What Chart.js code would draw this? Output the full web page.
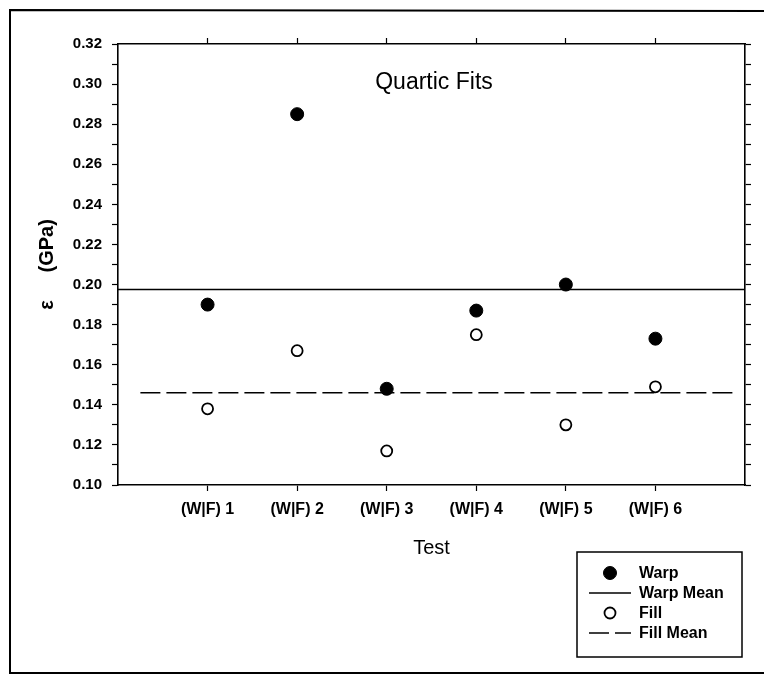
<!DOCTYPE html>
<html>
<head>
<meta charset="utf-8">
<script src="https://cdn.jsdelivr.net/npm/chart.js@4/dist/chart.umd.min.js"></script>
<style>
  body { margin: 0; background: #fff; }
  #wrap { width: 764px; height: 677px; position: relative; }
</style>
</head>
<body>
<div id="wrap"><canvas id="quarticChart"></canvas></div>
<script>
// values
const categories = ['(W|F) 1', '(W|F) 2', '(W|F) 3', '(W|F) 4', '(W|F) 5', '(W|F) 6'];
const warp = [0.190, 0.285, 0.148, 0.187, 0.200, 0.173];
const fill = [0.138, 0.167, 0.117, 0.175, 0.130, 0.149];
const warpMean = 0.1975;
const fillMean = 0.146;
const meanSpanWarp = [0, 7];
const meanSpanFill = [0.25, 6.9];

const FONT = '"Liberation Sans", Arial, sans-serif';

const toPoints = arr => arr.map((v, i) => ({ x: i + 1, y: v }));

const onlyCategories = scale => {
  scale.ticks = categories.map((c, i) => ({ value: i + 1 }));
};

// legend box + frame + inner title
const decor = {
  id: 'decor',
  afterDraw(chart) {
    const c = chart.ctx;
    c.save();
    c.strokeStyle = '#000';

    // outer frame (right edge runs off the scan)
    c.lineWidth = 2;
    c.beginPath();
    c.moveTo(790, 11);
    c.lineTo(10, 10);
    c.lineTo(10, 673);
    c.lineTo(790, 673);
    c.stroke();

    c.fillStyle = '#000';
    c.font = '23px ' + FONT;
    c.textAlign = 'center';
    c.textBaseline = 'middle';
    c.fillText('Quartic Fits', 434, 83);

    // legend
    c.lineWidth = 1.5;
    c.strokeRect(577, 552, 165, 105);
    c.font = 'bold 16px ' + FONT;
    c.textAlign = 'left';
    const rows = [573, 593, 613, 633];
    chart.data.datasets.forEach((ds, i) => {
      const y = rows[i];
      if (ds.type === 'line') {
        c.beginPath();
        c.lineWidth = ds.borderWidth;
        c.setLineDash(ds.borderDash || []);
        c.moveTo(589, y);
        c.lineTo(631, y);
        c.stroke();
        c.setLineDash([]);
      } else {
        c.beginPath();
        c.arc(610, y, ds.pointRadius, 0, Math.PI * 2);
        c.fillStyle = ds.pointBackgroundColor;
        c.fill();
        c.lineWidth = ds.pointBorderWidth;
        c.stroke();
      }
      c.fillStyle = '#000';
      c.fillText(ds.label, 639, y + 1);
    });
    c.restore();
  }
};

new Chart(document.getElementById('quarticChart'), {
  type: 'scatter',
  data: {
    datasets: [
      {
        label: 'Warp',
        data: toPoints(warp),
        pointRadius: 6.5,
        pointBackgroundColor: '#000',
        pointBorderColor: '#000',
        pointBorderWidth: 1
      },
      {
        type: 'line',
        label: 'Warp Mean',
        data: meanSpanWarp.map(x => ({ x: x, y: warpMean })),
        borderColor: '#000',
        borderWidth: 1.6,
        pointRadius: 0,
        fill: false
      },
      {
        label: 'Fill',
        data: toPoints(fill),
        pointRadius: 5.5,
        pointBackgroundColor: '#fff',
        pointBorderColor: '#000',
        pointBorderWidth: 1.8
      },
      {
        type: 'line',
        label: 'Fill Mean',
        data: meanSpanFill.map(x => ({ x: x, y: fillMean })),
        borderColor: '#000',
        borderWidth: 1.6,
        borderDash: [20, 6],
        pointRadius: 0,
        fill: false
      }
    ]
  },
  options: {
    responsive: true,
    maintainAspectRatio: false,
    animation: false,
    layout: { padding: 0 },
    plugins: {
      legend: { display: false },
      tooltip: { enabled: false }
    },
    scales: {
      x: {
        type: 'linear',
        position: 'bottom',
        min: 0,
        max: 7,
        afterBuildTicks: onlyCategories,
        afterFit: s => { s.height = 192; },
        border: { color: '#000', width: 1.6 },
        grid: { drawOnChartArea: false, tickLength: 6, color: '#000', tickWidth: 1.2 },
        ticks: {
          color: '#000',
          padding: 9,
          maxRotation: 0,
          autoSkip: false,
          font: { family: FONT, size: 16, weight: 'bold' },
          callback: v => categories[v - 1] || ''
        },
        title: {
          display: true,
          text: 'Test',
          color: '#000',
          font: { family: FONT, size: 20 },
          padding: { top: 0, bottom: 117 }
        }
      },
      x2: {
        type: 'linear',
        position: 'top',
        min: 0,
        max: 7,
        afterBuildTicks: onlyCategories,
        afterFit: s => { s.height = 44; },
        border: { color: '#000', width: 1.6 },
        grid: { drawOnChartArea: false, tickLength: 6, color: '#000', tickWidth: 1.2 },
        ticks: { display: false }
      },
      y: {
        position: 'left',
        min: 0.10,
        max: 0.32,
        afterFit: s => { s.width = 118; },
        border: { color: '#000', width: 1.6 },
        grid: { drawOnChartArea: false, tickLength: 6, color: '#000', tickWidth: 1.2 },
        ticks: {
          stepSize: 0.01,
          autoSkip: false,
          color: '#000',
          padding: 10,
          font: { family: FONT, size: 15, weight: 'bold' },
          callback: v => (Math.round(v * 100) % 2 === 0 ? v.toFixed(2) : '')
        },
        title: {
          display: true,
          text: '\u03b5     (GPa)',
          color: '#000',
          font: { family: FONT, size: 20, weight: 'bold' },
          padding: { top: 35, bottom: 0 }
        }
      },
      y2: {
        position: 'right',
        min: 0.10,
        max: 0.32,
        afterFit: s => { s.width = 19; },
        border: { color: '#000', width: 1.6 },
        grid: { drawOnChartArea: false, tickLength: 6, color: '#000', tickWidth: 1.2 },
        ticks: { stepSize: 0.01, autoSkip: false, display: false }
      }
    }
  },
  plugins: [decor]
});
</script>
</body>
</html>
